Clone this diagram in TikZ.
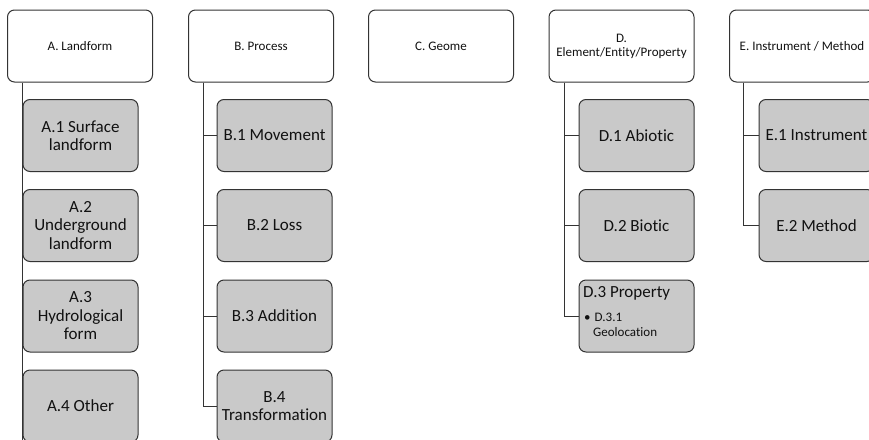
\documentclass[tikz,border=0pt]{standalone}
\usepackage{fontspec}
\setmainfont[Ligatures=NoCommon]{Carlito}
\definecolor{boxline}{HTML}{333333}
\definecolor{boxfill}{HTML}{C9C9C9}
\definecolor{txt}{HTML}{111111}
\begin{document}
\begin{tikzpicture}[x=1pt,y=-1pt,
  topbox/.style={draw=boxline, line width=1pt, fill=white, rounded corners=7pt,
    minimum width=145pt, minimum height=72pt, inner sep=0pt, align=center,
    text=txt, font=\fontsize{13}{14}\selectfont},
  subbox/.style={draw=boxline, line width=1pt, fill=boxfill, rounded corners=7pt,
    minimum width=115pt, minimum height=72pt, inner sep=0pt, align=center,
    text=txt, font=\fontsize{17}{18.5}\selectfont},
  conn/.style={draw=boxline, line width=1pt},
  smalltxt/.style={anchor=west, inner sep=0pt, text=txt, font=\fontsize{13}{14}\selectfont}]
\useasboundingbox (0,0) rectangle (869,439);

% top boxes
\node[topbox] (A) at (80,46) {A. Landform};
\node[topbox] (B) at (261,46) {B. Process};
\node[topbox] (C) at (441,46) {C. Geome};
\node[topbox] (D) at (621.5,46) {D.\\Element/Entity/Property};
\node[topbox] (E) at (802,46) {E. Instrument / Method};

% A
\node[subbox] (A1) at (80.5,135.5) {A.1 Surface\\landform};
\node[subbox] (A2) at (80.5,225.5) {A.2\\Underground\\landform};
\node[subbox] (A3) at (80.5,316) {A.3\\Hydrological\\form};
\node[subbox] (A4) at (80.5,406) {A.4 Other};
\draw[conn] (A1.west |- A.south) -- (A4.south west);

% B
\node[subbox] (B1) at (274.5,135.5) {B.1 Movement};
\node[subbox] (B2) at (274.5,225.5) {B.2 Loss};
\node[subbox] (B3) at (274.5,316) {B.3 Addition};
\node[subbox] (B4) at (274.5,406) {B.4\\Transformation};
\coordinate (Bt) at ([xshift=15pt]B.south west);
\draw[conn] (Bt) |- (B1.west);
\draw[conn] (Bt) |- (B2.west);
\draw[conn] (Bt) |- (B3.west);
\draw[conn] (Bt) |- (B4.west);

% D
\node[subbox] (D1) at (636.5,135.5) {D.1 Abiotic};
\node[subbox] (D2) at (636.5,225.5) {D.2 Biotic};
\node[subbox] (D3) at (636.5,316) {};
\node[anchor=west, inner sep=0pt, text=txt, font=\fontsize{17}{18.5}\selectfont] (D3t) at (583,293) {D.3 Property};
\node[smalltxt] (D3b) at (584,317) {\textbullet\hspace{4pt}D.3.1};
\node[smalltxt] (D3c) at (593,332) {Geolocation};
\coordinate (Dt) at ([xshift=15.5pt]D.south west);
\draw[conn] (Dt) |- (D1.west);
\draw[conn] (Dt) |- (D2.west);
\draw[conn] (Dt) |- (D3.west);

% E
\node[subbox] (E1) at (816.5,135.5) {E.1 Instrument};
\node[subbox] (E2) at (816.5,225.5) {E.2 Method};
\coordinate (Et) at ([xshift=14pt]E.south west);
\draw[conn] (Et) |- (E1.west);
\draw[conn] (Et) |- (E2.west);
\end{tikzpicture}
\end{document}
